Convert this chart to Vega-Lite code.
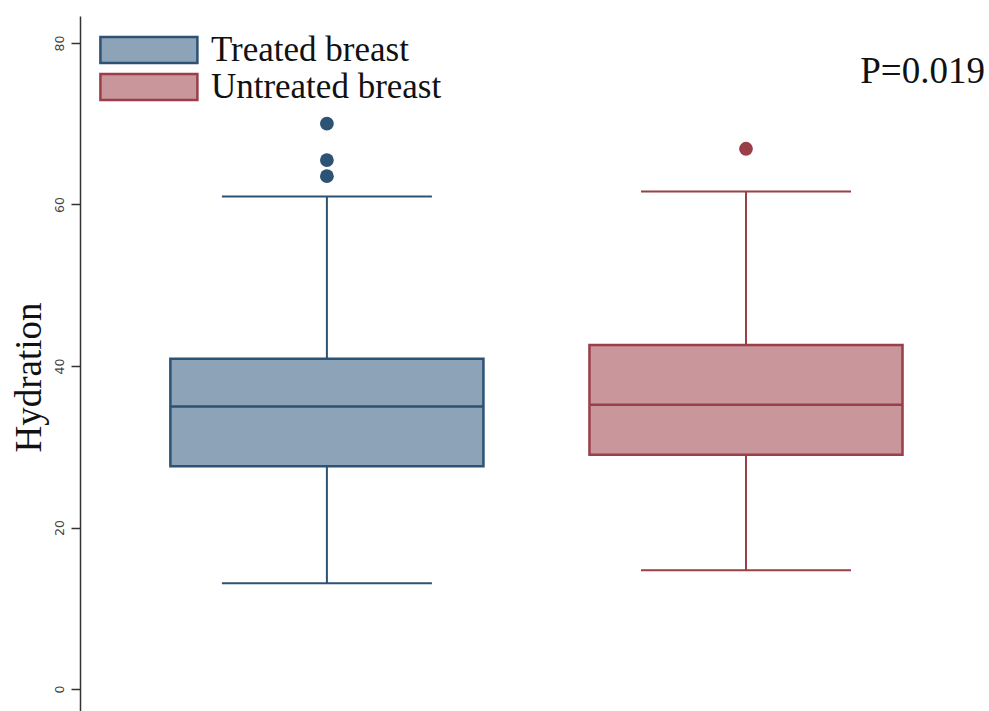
{
  "$schema": "https://vega.github.io/schema/vega-lite/v6.json",
  "autosize": {"type": "none"},
  "width": 909,
  "height": 695,
  "padding": {"left": 80, "top": 16, "right": 0, "bottom": 0},
  "background": "white",
  "config": {"view": {"stroke": null}},
  "datasets": {
    "stats": [
      {"group": "Treated breast", "lower": 13.1, "q1": 27.6, "median": 35.0, "q3": 40.9, "upper": 61.0},
      {"group": "Untreated breast", "lower": 14.7, "q1": 29.0, "median": 35.2, "q3": 42.6, "upper": 61.6}
    ],
    "outliers": [
      {"group": "Treated breast", "value": 70.0},
      {"group": "Treated breast", "value": 65.5},
      {"group": "Treated breast", "value": 63.5},
      {"group": "Untreated breast", "value": 66.9}
    ]
  },
  "encoding": {
    "x": {
      "field": "group",
      "type": "nominal",
      "sort": ["Treated breast", "Untreated breast"],
      "scale": {"paddingInner": 0.253, "paddingOuter": 0.211, "align": 0.511},
      "axis": null
    }
  },
  "layer": [
    {
      "data": {"name": "stats"},
      "mark": {"type": "bar", "strokeWidth": 2.5, "opacity": 1},
      "encoding": {
        "y": {
          "field": "q1",
          "type": "quantitative",
          "scale": {"domain": [-2.72, 83.34], "nice": false, "zero": false},
          "axis": {
            "values": [0, 20, 40, 60, 80],
            "grid": false,
            "labelAngle": -90,
            "labelAlign": "center",
            "labelBaseline": "bottom",
            "labelFont": "DejaVu Sans",
            "labelFontSize": 12.5,
            "labelColor": "#444444",
            "labelPadding": 5,
            "tickSize": 9,
            "tickColor": "#333333",
            "tickWidth": 1.5,
            "domainColor": "#333333",
            "domainWidth": 1.5,
            "title": "Hydration",
            "titleFont": "Liberation Serif",
            "titleFontSize": 37,
            "titleFontWeight": "normal",
            "titleColor": "#111111",
            "titlePadding": 5,
            "titleY": 361
          }
        },
        "y2": {"field": "q3"},
        "fill": {
          "field": "group",
          "type": "nominal",
          "scale": {"domain": ["Treated breast", "Untreated breast"], "range": ["#8CA3B8", "#C9969C"]},
          "legend": {
            "title": null,
            "orient": "none",
            "legendX": 51.4,
            "legendY": 16.5,
            "symbolType": "M-4,-1.07H4V1.07H-4Z",
            "symbolSize": 588,
            "symbolStrokeWidth": 2.5,
            "symbolOpacity": 1,
            "labelFont": "Liberation Serif",
            "labelFontSize": 35,
            "labelColor": "#111111",
            "labelOffset": 44.5,
            "rowPadding": 0,
            "labelLimit": 400
          }
        },
        "stroke": {
          "field": "group",
          "type": "nominal",
          "scale": {"domain": ["Treated breast", "Untreated breast"], "range": ["#2C5274", "#9A3E48"]},
          "legend": {
            "title": null,
            "orient": "none",
            "legendX": 51.4,
            "legendY": 16.5,
            "symbolType": "M-4,-1.07H4V1.07H-4Z",
            "symbolSize": 588,
            "symbolStrokeWidth": 2.5,
            "symbolOpacity": 1,
            "labelFont": "Liberation Serif",
            "labelFontSize": 35,
            "labelColor": "#111111",
            "labelOffset": 44.5,
            "rowPadding": 0,
            "labelLimit": 400
          }
        }
      }
    },
    {
      "data": {"name": "stats"},
      "mark": {"type": "rule", "strokeWidth": 2},
      "encoding": {
        "y": {"field": "q3", "type": "quantitative"},
        "y2": {"field": "upper"},
        "stroke": {"field": "group", "type": "nominal"}
      }
    },
    {
      "data": {"name": "stats"},
      "mark": {"type": "rule", "strokeWidth": 2},
      "encoding": {
        "y": {"field": "lower", "type": "quantitative"},
        "y2": {"field": "q1"},
        "stroke": {"field": "group", "type": "nominal"}
      }
    },
    {
      "data": {"name": "stats"},
      "mark": {"type": "tick", "size": 210, "thickness": 2, "opacity": 1},
      "encoding": {
        "y": {"field": "upper", "type": "quantitative"},
        "color": {"field": "group", "type": "nominal", "scale": {"domain": ["Treated breast", "Untreated breast"], "range": ["#2C5274", "#9A3E48"]}, "legend": null}
      }
    },
    {
      "data": {"name": "stats"},
      "mark": {"type": "tick", "size": 210, "thickness": 2, "opacity": 1},
      "encoding": {
        "y": {"field": "lower", "type": "quantitative"},
        "color": {"field": "group", "type": "nominal", "legend": null}
      }
    },
    {
      "data": {"name": "stats"},
      "mark": {"type": "tick", "size": 313, "thickness": 2.5, "opacity": 1},
      "encoding": {
        "y": {"field": "median", "type": "quantitative"},
        "color": {"field": "group", "type": "nominal", "legend": null}
      }
    },
    {
      "data": {"name": "outliers"},
      "mark": {"type": "point", "filled": true, "opacity": 1, "size": 190},
      "encoding": {
        "y": {"field": "value", "type": "quantitative"},
        "color": {"field": "group", "type": "nominal", "scale": {"domain": ["Treated breast", "Untreated breast"], "range": ["#1C4670", "#9A3232"]}, "legend": null}
      }
    },
    {
      "data": {"values": [{"label": "P=0.019"}]},
      "mark": {"type": "text", "align": "right", "baseline": "alphabetic", "font": "Liberation Serif", "fontSize": 37, "color": "#111111", "dx": 239},
      "encoding": {
        "x": {"datum": "Untreated breast"},
        "y": {"datum": 75.0},
        "text": {"field": "label"}
      }
    }
  ]
}
